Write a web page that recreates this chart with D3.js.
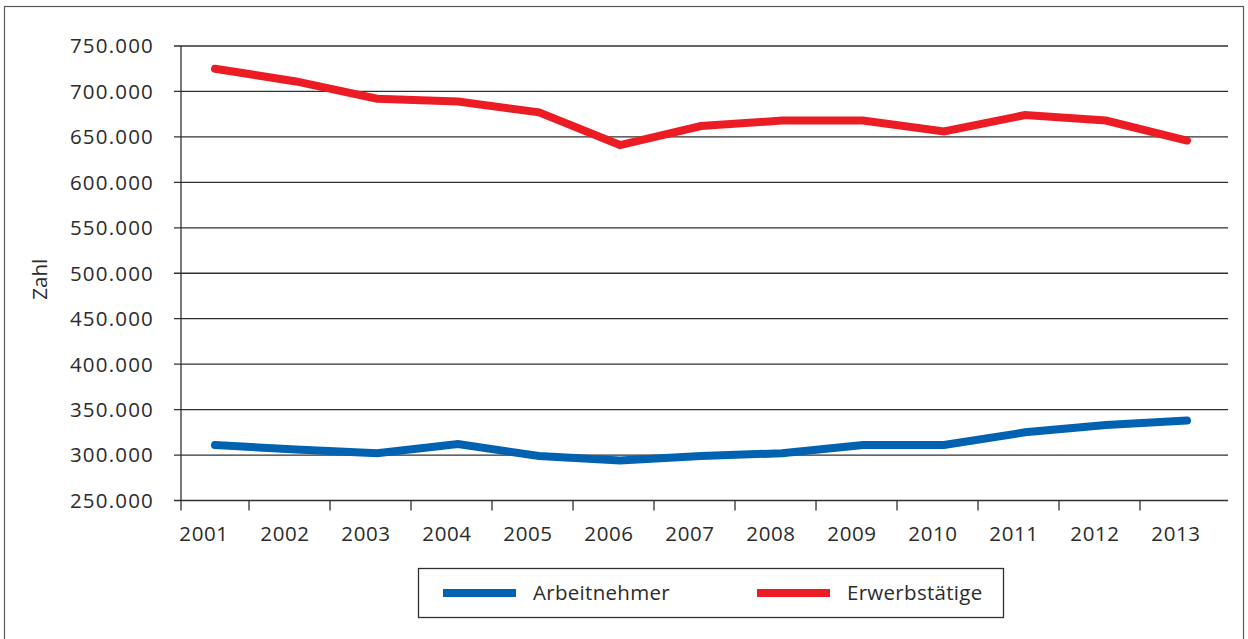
<!DOCTYPE html>
<html lang="de">
<head>
<meta charset="utf-8">
<script src="https://cdn.jsdelivr.net/npm/d3@7"></script>
<style>
  html, body { margin: 0; padding: 0; background: #fff; }
  svg { display: block; }
  text { font-family: "Open Sans", "Noto Sans", sans-serif; fill: #2b2b2b; }
</style>
</head>
<body>
<svg id="chart" width="1248" height="639"></svg>
<script>
// Jahre auf der x-Achse
const years = ["2001", "2002", "2003", "2004", "2005", "2006", "2007",
               "2008", "2009", "2010", "2011", "2012", "2013"];

// Anzahl der Arbeitnehmer je Jahr
const arbeitnehmer = [311000, 306000, 302000, 312000, 299000, 294000, 299000,
                      302000, 311000, 311000, 325000, 333000, 338000];

// Anzahl der Erwerbstätigen je Jahr
const erwerbstaetige = [725000, 711000, 692000, 689000, 677000, 641000, 662000,
                        668000, 668000, 656000, 674000, 668000, 646000];

// Beschriftete Werte der y-Achse
const yTicks = [250000, 300000, 350000, 400000, 450000, 500000,
                550000, 600000, 650000, 700000, 750000];

const seriesNames = ["Arbeitnehmer", "Erwerbstätige"];
const seriesColors = ["#0062b0", "#ec1c24"];

const svg = d3.select("#chart");
const W = 1248, H = 639;

// Rahmen um die gesamte Grafik
svg.append("rect")
  .attr("x", 4.5).attr("y", 6.5)
  .attr("width", W - 9).attr("height", H)
  .attr("fill", "none").attr("stroke", "#5a5a5a").attr("stroke-width", 1.2);

const plot = { left: 181, right: 1228, top: 46, bottom: 500.5 };

const de = d3.formatLocale({ decimal: ",", thousands: ".", grouping: [3], currency: ["", " €"] });
const fmt = de.format(",d");

const y = d3.scaleLinear()
  .domain([d3.min(yTicks), d3.max(yTicks)])
  .range([plot.bottom, plot.top]);

const x = d3.scalePoint()
  .domain(years)
  .range([plot.left + 34, plot.right - 41]);

const step = x.step();

// Gitternetzlinien mit kurzen Markierungen links der Achse
const grid = svg.append("g");
grid.selectAll("line")
  .data(yTicks)
  .join("line")
  .attr("x1", plot.left - 7).attr("x2", plot.right)
  .attr("y1", d => y(d)).attr("y2", d => y(d))
  .attr("stroke", "#303030").attr("stroke-width", 1.3);

// y-Achsenbeschriftung
svg.append("g").selectAll("text")
  .data(yTicks)
  .join("text")
  .attr("x", plot.left - 27)
  .attr("y", d => y(d))
  .attr("dy", "0.36em")
  .attr("text-anchor", "end")
  .attr("font-size", 20.5)
  .attr("letter-spacing", 1.2)
  .text(d => fmt(d));

// y-Achse
svg.append("line")
  .attr("x1", plot.left).attr("x2", plot.left)
  .attr("y1", plot.top).attr("y2", plot.bottom + 10)
  .attr("stroke", "#303030").attr("stroke-width", 1.3);

// x-Achse: Teilstriche zwischen den Jahren
svg.append("g").selectAll("line")
  .data(years.slice(0, -1))
  .join("line")
  .attr("x1", d => x(d) + step * 0.42).attr("x2", d => x(d) + step * 0.42)
  .attr("y1", plot.bottom).attr("y2", plot.bottom + 10)
  .attr("stroke", "#303030").attr("stroke-width", 1.3);

// x-Achsenbeschriftung
svg.append("g").selectAll("text")
  .data(years)
  .join("text")
  .attr("x", d => x(d) - 11)
  .attr("y", plot.bottom + 40)
  .attr("text-anchor", "middle")
  .attr("font-size", 20.5)
  .attr("letter-spacing", 0.6)
  .text(d => d);

// Achsentitel
svg.append("text")
  .attr("transform", `translate(47, ${(plot.top + plot.bottom) / 2 + 6}) rotate(-90)`)
  .attr("text-anchor", "middle")
  .attr("font-size", 20.5)
  .text("Zahl");

// Linien der beiden Reihen
const line = d3.line()
  .x((d, i) => x(years[i]))
  .y(d => y(d));

[arbeitnehmer, erwerbstaetige].forEach((vals, k) => {
  svg.append("path")
    .datum(vals)
    .attr("d", line)
    .attr("fill", "none")
    .attr("stroke", seriesColors[k])
    .attr("stroke-width", 8)
    .attr("stroke-linecap", "round")
    .attr("stroke-linejoin", "miter");
});

// Legende
const legend = svg.append("g");
legend.append("rect")
  .attr("x", 418.5).attr("y", 568.5)
  .attr("width", 585).attr("height", 49)
  .attr("fill", "#fff").attr("stroke", "#303030").attr("stroke-width", 1.3);

const legendX = [443, 757];
seriesNames.forEach((name, k) => {
  legend.append("line")
    .attr("x1", legendX[k]).attr("x2", legendX[k] + 73)
    .attr("y1", 593).attr("y2", 593)
    .attr("stroke", seriesColors[k]).attr("stroke-width", 8);
  legend.append("text")
    .attr("x", legendX[k] + 90)
    .attr("y", 593)
    .attr("dy", "0.36em")
    .attr("font-size", 20.5)
    .attr("letter-spacing", 0.3)
    .text(name);
});
</script>
</body>
</html>
